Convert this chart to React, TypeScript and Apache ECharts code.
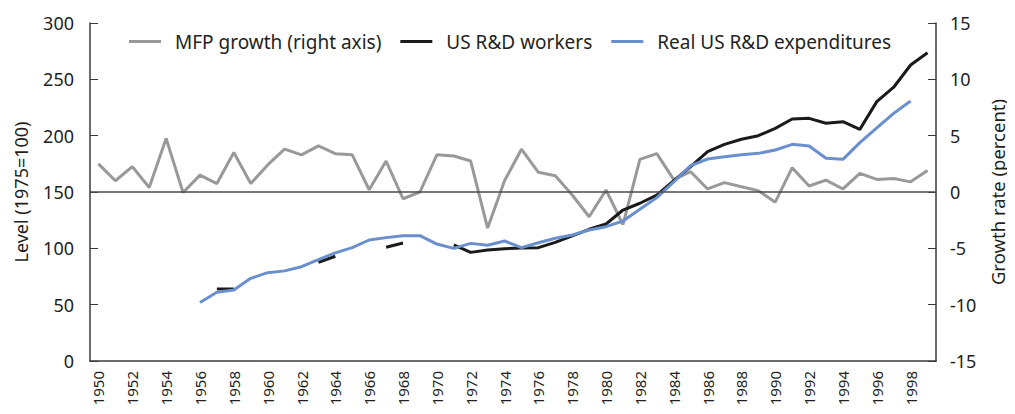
import React, { useEffect, useRef } from "react";
import * as echarts from "echarts";

const years: string[] = [];
for (let y = 1950; y <= 1999; y++) years.push(String(y));

const mfpGrowth = [
  2.5, 1.0, 2.25, 0.4, 4.75, -0.05, 1.5, 0.75, 3.5, 0.75,
  2.4, 3.8, 3.3, 4.1, 3.4, 3.3, 0.2, 2.75, -0.6, 0.0,
  3.3, 3.2, 2.75, -3.2, 1.0, 3.8, 1.75, 1.45, -0.27, -2.2,
  0.18, -2.9, 2.9, 3.4, 1.1, 1.8, 0.27, 0.83, 0.47, 0.12,
  -0.9, 2.16, 0.53, 1.06, 0.27, 1.66, 1.12, 1.2, 0.9, 1.9,
];

const rdWorkers: (number | null)[] = [
  null, null, null, null, null, null, null, 64, 64, null,
  null, null, null, 87.5, 93, null, null, 101, 104.7, null,
  null, 103, 96.4, 98.5, 99.7, 100.3, 100.6, 105.3, 111, 116.9,
  121.6, 134, 140, 147.3, 160, 172.5, 185.8, 192.3, 196.8, 200,
  206.5, 214.8, 215.4, 211, 212.4, 205.6, 230.2, 243, 262.7, 273.6,
];

const rdExpenditures: (number | null)[] = [
  null, null, null, null, null, null, 52, 61, 63, 73.4,
  78.4, 80, 83.7, 90, 96, 100.6, 107.4, 109.5, 111.2, 111.2,
  103.8, 100, 104.4, 102.7, 106.5, 100.6, 105, 108.9, 111.8, 116.3,
  119.2, 124.3, 134.6, 145, 159, 173.4, 179.3, 181.3, 183.1, 184.3,
  187.3, 192.3, 190.8, 179.9, 179, 193.8, 207, 219.8, 230.8, null,
];

const leftTicks = { min: 0, max: 300, interval: 50 };
const rightTicks = { min: -15, max: 15, interval: 5 };

const FONT = "'Noto Sans', sans-serif";
const TEXT = "#231f20";
const AXIS = "#3a3a3a";

export default function App() {
  const ref = useRef<HTMLDivElement>(null);
  useEffect(() => {
    if (!ref.current) return;
    const chart = echarts.init(ref.current, undefined, { renderer: "svg" });
    chart.setOption({
      animation: false,
      textStyle: { fontFamily: FONT, color: TEXT },
      grid: { left: 90, right: 75, top: 23, bottom: 53 },
      legend: {
        left: 124,
        top: 27,
        itemWidth: 32,
        itemHeight: 3,
        itemGap: 19,
        icon: "rect",
        textStyle: { fontFamily: FONT, fontSize: 19, color: TEXT, padding: [0, 0, 0, 9] },
        data: ["MFP growth (right axis)", "US R&D workers", "Real US R&D expenditures"],
      },
      xAxis: {
        type: "category",
        data: years,
        boundaryGap: true,
        axisLine: { lineStyle: { color: AXIS, width: 1.5 } },
        axisTick: { inside: true, length: 6, interval: 0, lineStyle: { color: AXIS, width: 1 } },
        axisLabel: {
          interval: 1,
          rotate: 90,
          margin: 10,
          fontFamily: FONT,
          fontSize: 15,
          color: TEXT,
        },
        splitLine: { show: false },
      },
      yAxis: [
        {
          type: "value",
          ...leftTicks,
          name: "Level (1975=100)",
          nameLocation: "middle",
          nameGap: 60,
          nameRotate: 90,
          nameTextStyle: { fontFamily: FONT, fontSize: 18, color: TEXT },
          axisLine: { show: true, lineStyle: { color: AXIS, width: 1.5 } },
          axisTick: { show: true, inside: true, length: 8, lineStyle: { color: AXIS, width: 1 } },
          axisLabel: { fontFamily: FONT, fontSize: 18, color: TEXT, margin: 16 },
          splitLine: { show: false },
        },
        {
          type: "value",
          ...rightTicks,
          position: "right",
          name: "Growth rate (percent)",
          nameLocation: "middle",
          nameGap: 52,
          nameRotate: 90,
          nameTextStyle: { fontFamily: FONT, fontSize: 18.5, color: TEXT },
          axisLine: { show: true, lineStyle: { color: AXIS, width: 1.5 } },
          axisTick: { show: true, inside: true, length: 8, lineStyle: { color: AXIS, width: 1 } },
          axisLabel: { fontFamily: FONT, fontSize: 18, color: TEXT, margin: 14 },
          splitLine: { show: false },
        },
      ],
      series: [
        {
          name: "MFP growth (right axis)",
          type: "line",
          yAxisIndex: 1,
          data: mfpGrowth,
          symbol: "none",
          lineStyle: { color: "#999999", width: 3 },
          itemStyle: { color: "#999999" },
          markLine: {
            silent: true,
            symbol: "none",
            label: { show: false },
            lineStyle: { color: "#4a4a4a", width: 1.5, type: "solid" },
            data: [{ yAxis: 0 }],
          },
          z: 2,
        },
        {
          name: "US R&D workers",
          type: "line",
          yAxisIndex: 0,
          data: rdWorkers,
          connectNulls: false,
          symbol: "none",
          lineStyle: { color: "#1a1a1a", width: 3 },
          itemStyle: { color: "#1a1a1a" },
          z: 3,
        },
        {
          name: "Real US R&D expenditures",
          type: "line",
          yAxisIndex: 0,
          data: rdExpenditures,
          connectNulls: false,
          symbol: "none",
          lineStyle: { color: "#6a8fcf", width: 3 },
          itemStyle: { color: "#6a8fcf" },
          z: 4,
        },
      ],
    });
    return () => chart.dispose();
  }, []);
  return <div ref={ref} style={{ width: 1015, height: 414, margin: -8 }} />;
}
